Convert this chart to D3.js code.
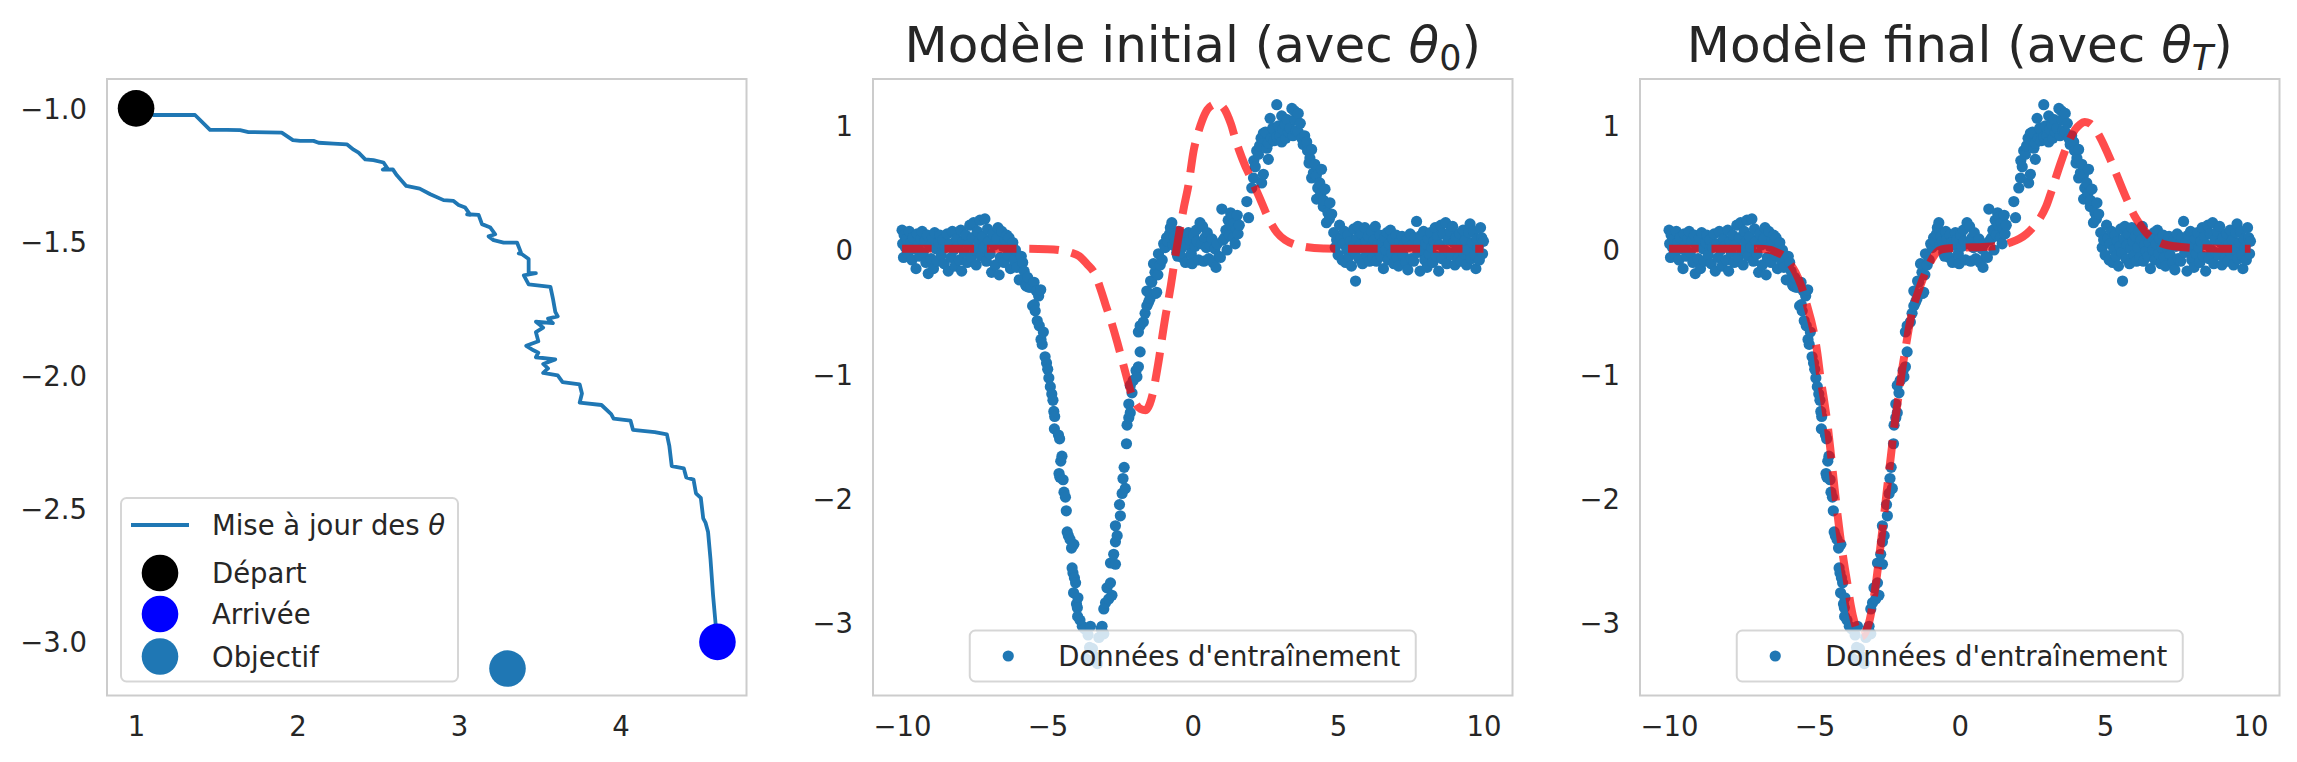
<!DOCTYPE html>
<html>
<head>
<meta charset="utf-8">
<script src="https://cdn.jsdelivr.net/npm/d3@7"></script>
<style>
  body { margin: 0; background: #fff; }
  text { font-family: "DejaVu Sans", sans-serif; fill: #262626; }
</style>
</head>
<body>
<svg id="chart" width="2297" height="762"></svg>
<script>
// ---- data ----
// left panel : trajectory of theta during training
var pathX = [1.0, 1.107, 1.365, 1.458, 1.562, 1.644, 1.696, 1.902, 1.971, 2.016, 2.099, 2.13, 2.223, 2.305,
  2.347, 2.378, 2.419, 2.47, 2.532, 2.553, 2.528, 2.59, 2.615, 2.673, 2.756, 2.822, 2.904, 2.966, 2.997,
  3.038, 3.07, 3.05, 3.121, 3.142, 3.194, 3.224, 3.183, 3.214, 3.276, 3.359, 3.383, 3.37, 3.39, 3.431,
  3.431, 3.476, 3.401, 3.431, 3.566, 3.581, 3.596, 3.611, 3.551, 3.581, 3.476, 3.521, 3.476, 3.491,
  3.416, 3.461, 3.491, 3.476, 3.596, 3.521, 3.551, 3.521, 3.611, 3.641, 3.747, 3.761, 3.747, 3.882,
  3.942, 3.957, 4.062, 4.077, 4.212, 4.287, 4.302, 4.317, 4.392, 4.407, 4.452, 4.467, 4.497, 4.512,
  4.527, 4.542, 4.557, 4.573, 4.588, 4.6];
var pathY = [-1.0, -1.025, -1.025, -1.081, -1.081, -1.082, -1.089, -1.091, -1.119, -1.122, -1.122, -1.129, -1.132, -1.135,
  -1.155, -1.166, -1.191, -1.194, -1.203, -1.222, -1.23, -1.229, -1.251, -1.291, -1.301, -1.322, -1.344, -1.347, -1.362,
  -1.372, -1.399, -1.397, -1.399, -1.434, -1.447, -1.472, -1.48, -1.494, -1.503, -1.503, -1.54, -1.544, -1.547, -1.565,
  -1.618, -1.618, -1.626, -1.66, -1.669, -1.712, -1.763, -1.78, -1.788, -1.805, -1.8, -1.822, -1.839, -1.873,
  -1.89, -1.907, -1.916, -1.933, -1.941, -1.958, -1.975, -1.992, -2.001, -2.026, -2.035, -2.069, -2.103, -2.112,
  -2.146, -2.163, -2.171, -2.205, -2.214, -2.222, -2.265, -2.341, -2.35, -2.384, -2.392, -2.443, -2.46, -2.537,
  -2.554, -2.588, -2.69, -2.826, -2.928, -3.0];
var startPoint = [1.0, -1.0];
var endPoint = [4.6, -3.0];
var targetPoint = [3.3, -3.1];

// training data (same in both right panels)
var trainPoints = [
  [-10.0,0.16],[-9.98,0.05],[-9.95,-0.06],[-9.93,0.12],[-9.88,0.02],[-9.84,0.09],[-9.8,-0.03],[-9.75,0.15],
  [-9.7,0.06],[-9.66,-0.08],[-9.62,0.1],[-9.57,0.01],[-9.52,-0.15],[-9.48,0.13],[-9.44,0.04],[-9.4,-0.05],
  [-9.36,0.09],[-9.31,0.15],[-9.27,-0.02],[-9.22,0.07],[-9.18,-0.1],[-9.13,0.12],[-9.1,-0.19],[-9.05,0.03],
  [-9.0,-0.07],[-8.96,0.1],[-8.92,-0.15],[-8.88,0.14],[-8.83,0.01],[-8.79,-0.09],[-8.74,0.06],[-8.7,0.12],
  [-8.65,-0.04],[-8.6,0.08],[-8.55,-0.11],[-8.5,0.02],[-8.45,0.13],[-8.41,-0.17],[-8.36,0.05],[-8.31,-0.06],
  [-8.27,0.15],[-8.22,0.0],[-8.18,-0.13],[-8.13,0.09],[-8.08,0.03],[-8.03,-0.08],[-7.98,0.16],[-7.95,-0.17],
  [-7.9,0.07],[-7.86,-0.02],[-7.81,0.12],[-7.76,-0.1],[-7.72,0.04],[-7.67,0.2],[-7.62,-0.06],[-7.58,0.1],
  [-7.54,0.22],[-7.5,0.0],[-7.45,-0.12],[-7.41,0.15],[-7.37,0.06],[-7.32,0.24],[-7.28,-0.05],[-7.23,0.11],
  [-7.19,0.02],[-7.15,0.25],[-7.1,-0.09],[-7.06,0.17],[-7.01,0.07],[-6.97,-0.03],[-6.92,-0.18],[-6.88,0.13],
  [-6.83,0.04],[-6.79,-0.12],[-6.74,0.09],[-6.7,0.18],[-6.66,-0.2],[-6.62,-0.06],[-6.57,0.15],[-6.53,0.03],
  [-6.49,-0.1],[-6.45,0.08],[-6.4,0.12],[-6.36,-0.04],[-6.32,0.1],[-6.27,-0.15],[-6.23,0.02],[-6.19,0.06],
  [-6.14,-0.08],[-6.1,0.0],
  [-6.05,-0.14],[-5.97,-0.24],[-5.9,-0.05],[-5.85,-0.1],[-5.8,-0.17],[-5.75,-0.28],[-5.73,-0.29],[-5.68,-0.22],
  [-5.63,-0.3],[-5.57,-0.3],[-5.51,-0.45],[-5.46,-0.26],[-5.45,-0.44],[-5.42,-0.49],[-5.38,-0.33],[-5.35,-0.57],
  [-5.3,-0.37],[-5.28,-0.61],[-5.23,-0.32],[-5.22,-0.72],[-5.18,-0.76],[-5.14,-0.66],[-5.08,-0.86],[-5.03,-0.91],
  [-4.99,-0.96],[-4.95,-1.03],[-4.9,-1.1],[-4.85,-1.16],[-4.81,-1.21],[-4.78,-1.3],[-4.75,-1.34],[-4.76,-1.44],
  [-4.62,-1.49],[-4.58,-1.52],[-4.54,-1.7],[-4.5,-1.66],[-4.6,-1.8],[-4.57,-1.83],[-4.46,-1.85],[-4.43,-1.95],
  [-4.38,-1.99],[-4.35,-2.1],[-4.32,-2.27],[-4.28,-2.3],[-4.22,-2.33],[-4.17,-2.4],[-4.12,-2.6],[-4.15,-2.56],
  [-4.09,-2.37],[-4.07,-2.64],[-4.03,-2.68],[-4.1,-2.76],[-4.0,-2.85],[-3.95,-2.8],[-3.97,-2.88],[-3.96,-2.95],
  [-3.88,-2.98],[-3.8,-3.03],[-3.72,-3.05],[-3.68,-3.29],[-3.6,-3.1],[-3.55,-3.2],[-3.52,-3.03],[-3.45,-3.21],
  [-3.4,-3.3],[-3.33,-3.28],[-3.28,-3.33],[-3.23,-3.12],[-3.15,-3.05],[-3.12,-3.03],[-3.06,-3.09],[-3.06,-2.89],
  [-3.0,-2.84],[-2.95,-2.72],[-2.89,-2.81],[-2.83,-2.68],[-2.78,-2.78],[-2.83,-2.52],[-2.72,-2.45],[-2.66,-2.53],
  [-2.66,-2.35],[-2.6,-2.3],[-2.66,-2.22],[-2.52,-2.05],[-2.49,-2.14],[-2.43,-1.96],[-2.4,-1.84],[-2.32,-1.92],
  [-2.36,-1.75],[-2.28,-1.56],[-2.26,-1.41],[-2.2,-1.35],[-2.2,-1.24],[-2.15,-1.31],[-2.09,-1.15],[-2.15,-1.09],
  [-2.05,-1.05],[-1.95,-0.97],[-1.92,-1.02],[-1.87,-0.94],[-1.81,-0.82],[-1.87,-0.66],[-1.81,-0.61],[-1.7,-0.58],
  [-1.64,-0.51],[-1.58,-0.45],[-1.52,-0.42],[-1.47,-0.39],[-1.58,-0.33],[-1.41,-0.26],[-1.45,-0.25],[-1.28,-0.35],
  [-1.24,-0.34],[-1.3,-0.18],[-1.35,-0.11],[-1.2,-0.2],[-1.18,-0.03],[-1.12,-0.12],[-1.05,-0.08],
  [-1.0,0.05],[-0.95,0.02],[-0.9,0.1],[-0.86,0.07],[-0.8,0.13],[-0.77,0.18],[-0.72,0.22],[-0.68,0.04],
  [-0.64,0.11],[-0.6,0.07],[-0.55,-0.02],[-0.52,-0.05],[-0.48,0.15],[-0.44,0.09],[-0.4,0.01],[-0.36,-0.06],
  [-0.33,0.12],[-0.28,0.06],[-0.25,-0.1],[-0.2,0.04],[-0.15,0.14],[-0.1,0.08],[-0.05,-0.03],[-0.02,-0.11],
  [0.03,0.12],[0.08,0.03],[0.12,0.16],[0.15,0.07],[0.2,-0.08],[0.25,0.22],[0.3,0.05],[0.34,0.19],
  [0.38,-0.09],[0.42,0.1],[0.47,0.02],[0.5,0.14],[0.55,-0.07],[0.6,0.04],[0.66,0.09],[0.7,-0.1],
  [0.76,0.01],[0.8,-0.14],[0.84,0.05],[0.9,-0.05],[0.95,-0.06],[1.0,0.33],[1.05,0.08],[1.1,0.1],
  [1.14,0.16],[1.18,0.0],[1.22,0.24],[1.26,0.12],[1.3,0.3],[1.33,0.2],[1.36,0.27],[1.4,0.1],
  [1.43,0.22],[1.46,0.05],[1.5,0.17],[1.53,0.28],[1.56,0.13],[1.6,0.2],[1.86,0.39],[1.92,0.26],
  [2.03,0.5],[2.09,0.58],[2.1,0.72],[2.15,0.67],[2.2,0.8],[2.26,0.77],[2.3,0.84],[2.35,0.9],
  [2.37,0.54],[2.43,0.61],[2.43,0.94],[2.5,0.95],[2.55,0.82],[2.6,0.86],[2.6,0.73],[2.66,1.06],
  [2.7,0.9],[2.75,0.98],[2.8,0.88],[2.89,1.17],[2.89,0.91],[2.95,1.0],[3.0,0.92],[3.06,1.08],
  [3.06,0.87],[3.1,0.97],[3.18,1.01],[3.2,0.9],[3.25,1.05],[3.29,0.95],[3.35,0.98],[3.41,1.14],
  [3.45,0.92],[3.5,1.12],[3.52,1.05],[3.55,0.96],[3.63,1.1],[3.63,0.95],[3.7,1.02],[3.75,0.9],
  [3.8,0.85],[3.85,0.92],[3.92,0.87],[3.95,0.8],[4.0,0.7],[4.03,0.74],[4.09,0.81],[4.09,0.58],
  [4.15,0.62],[4.2,0.69],[4.25,0.6],[4.26,0.41],[4.3,0.5],[4.37,0.54],[4.4,0.45],[4.43,0.65],
  [4.49,0.35],[4.5,0.4],[4.55,0.49],[4.6,0.22],[4.65,0.3],[4.7,0.25],[4.72,0.38],[4.78,0.29],
  [4.85,0.14],[4.9,0.02],[4.95,0.08],[5.0,-0.04],[5.05,0.2],[5.1,0.1],[5.14,-0.08],[5.18,0.05],
  [5.22,0.15],[5.26,-0.1],[5.3,0.0],[5.34,0.12],[5.38,-0.05],[5.42,0.07],[5.46,-0.13],[5.5,0.03],
  [5.54,0.17],[5.58,-0.02],[5.6,-0.25],[5.64,0.09],[5.68,0.19],[5.72,-0.07],[5.76,0.04],[5.8,0.13],
  [5.84,-0.11],[5.88,0.01],[5.92,0.18],[5.96,0.07],[6.0,-0.04],[6.04,0.11],[6.08,-0.09],[6.12,0.02],
  [6.16,0.15],[6.2,-0.06],[6.24,0.08],[6.28,0.19],[6.32,-0.09],[6.36,0.04],[6.4,-0.01],[6.44,0.12],
  [6.48,-0.05],[6.52,0.06],[6.56,-0.15],[6.6,0.1],[6.64,0.0],[6.68,0.14],[6.72,-0.08],[6.76,0.05],
  [6.8,0.16],[6.84,-0.03],[6.88,0.09],[6.92,-0.11],[6.96,0.02],[7.0,0.12],[7.04,-0.06],[7.08,-0.13],
  [7.12,0.07],[7.16,0.01],[7.2,0.11],[7.24,-0.04],[7.28,0.05],[7.32,-0.1],[7.36,0.08],[7.4,-0.16],
  [7.44,0.03],[7.48,0.13],[7.52,-0.07],[7.56,0.04],[7.6,-0.09],[7.64,0.1],[7.7,0.23],[7.74,-0.02],
  [7.78,0.06],[7.82,-0.17],[7.86,0.12],[7.9,0.0],[7.94,0.15],[7.98,-0.08],[8.02,0.05],[8.06,-0.14],
  [8.1,0.09],[8.14,-0.03],[8.18,0.14],[8.22,0.02],[8.26,-0.1],[8.3,0.07],[8.34,0.18],[8.38,-0.05],
  [8.42,0.11],[8.46,-0.17],[8.5,0.04],[8.54,0.2],[8.58,-0.07],[8.62,0.13],[8.66,0.0],[8.7,0.22],
  [8.74,-0.11],[8.78,0.08],[8.82,-0.02],[8.86,0.15],[8.9,-0.04],[8.94,0.19],[8.98,0.06],[9.02,-0.12],
  [9.06,0.1],[9.1,0.02],[9.14,-0.06],[9.18,0.13],[9.22,-0.09],[9.26,0.05],[9.3,0.16],[9.34,-0.03],
  [9.38,0.08],[9.42,-0.12],[9.46,0.0],[9.5,0.14],[9.54,0.21],[9.58,-0.07],[9.62,0.06],[9.66,0.15],
  [9.7,-0.04],[9.74,-0.15],[9.78,0.09],[9.82,0.02],[9.86,-0.08],[9.9,0.18],[9.94,0.1],[9.97,-0.03],
  [10.0,0.07]
];

// model predictions
var initCurveX = [-10, -8, -6, -5, -4.6, -4.2, -3.9, -3.65, -3.35, -3.15, -3.0, -2.8, -2.6, -2.45, -2.3, -2.15,
  -2.0, -1.8, -1.62, -1.48, -1.36, -1.25, -1.15, -1.05, -0.95, -0.85, -0.75, -0.6, -0.45, -0.3, -0.15, 0.03,
  0.18, 0.32, 0.5, 0.7, 0.85, 1.0, 1.17, 1.32, 1.46, 1.6, 1.8, 2.0, 2.15, 2.32, 2.5, 2.66, 2.9, 3.18, 3.5,
  3.87, 4.5, 5.5, 7, 8.5, 10];
var initCurveY = [0.01, 0.01, 0.01, 0.007, 0.0, -0.02, -0.05, -0.11, -0.2, -0.33, -0.44, -0.58, -0.74, -0.87, -1.0, -1.13,
  -1.22, -1.28, -1.29, -1.24, -1.14, -1.0, -0.86, -0.7, -0.55, -0.42, -0.28, -0.05, 0.16, 0.35, 0.52, 0.8,
  0.94, 1.04, 1.13, 1.17, 1.18, 1.16, 1.1, 1.01, 0.9, 0.8, 0.68, 0.58, 0.5, 0.41, 0.31, 0.23, 0.14, 0.08, 0.045,
  0.025, 0.012, 0.01, 0.01, 0.01, 0.01];
var finalCurveX = [-10, -8, -6.96, -6.5, -6.29, -6.05, -5.87, -5.65, -5.45, -5.25, -5.04, -4.9, -4.79, -4.66, -4.54,
  -4.43, -4.32, -4.22, -4.12, -4.0, -3.87, -3.75, -3.62, -3.5, -3.37, -3.25, -3.12, -3.0, -2.87, -2.75, -2.62,
  -2.5, -2.37, -2.25, -2.12, -2.0, -1.87, -1.75, -1.62, -1.45, -1.28, -1.1, -0.95, -0.8, -0.62, -0.3, 0.2, 0.8,
  1.38, 1.75, 2.05, 2.3, 2.55, 2.77, 2.97, 3.15, 3.3, 3.47, 3.64, 3.8, 3.97, 4.13, 4.3, 4.47, 4.64, 4.8, 4.97,
  5.18, 5.39, 5.6, 5.8, 6.0, 6.22, 6.45, 6.72, 7.05, 7.39, 8.22, 9.0, 10];
var finalCurveY = [0.01, 0.01, 0.01, 0.0, -0.02, -0.05, -0.1, -0.18, -0.29, -0.45, -0.64, -0.83, -1.03, -1.22, -1.42,
  -1.65, -1.89, -2.1, -2.29, -2.49, -2.68, -2.86, -3.0, -3.08, -3.11, -3.08, -3.0, -2.86, -2.66, -2.43, -2.17,
  -1.92, -1.66, -1.42, -1.2, -0.99, -0.8, -0.63, -0.48, -0.35, -0.24, -0.14, -0.07, -0.02, 0.005, 0.015, 0.02, 0.025,
  0.035, 0.06, 0.09, 0.13, 0.19, 0.26, 0.35, 0.47, 0.58, 0.7, 0.81, 0.9, 0.97, 1.01, 1.03, 1.02, 0.98, 0.92, 0.84,
  0.73, 0.61, 0.49, 0.38, 0.28, 0.2, 0.13, 0.08, 0.045, 0.03, 0.015, 0.01, 0.01];

// ticks
var pathTicksX = [1, 2, 3, 4];
var pathTicksY = [-1.0, -1.5, -2.0, -2.5, -3.0];
var fitTicksX = [-10, -5, 0, 5, 10];
var fitTicksY = [1, 0, -1, -2, -3];

// ---- drawing ----
var blue = "#1f77b4";
var top_ = 79, bottom_ = 695.5, panelW = 639.5;
var fontSize = 27.5;

var svg = d3.select("#chart");

function makePanel(left, xDomain, yDomain) {
  var x = d3.scaleLinear().domain(xDomain).range([left, left + panelW]);
  var y = d3.scaleLinear().domain(yDomain).range([bottom_, top_]);
  var g = svg.append("g");
  g.append("rect")
    .attr("x", left).attr("y", top_)
    .attr("width", panelW).attr("height", bottom_ - top_)
    .attr("fill", "#fff").attr("stroke", "#cccccc").attr("stroke-width", 2);
  return { g: g, x: x, y: y, left: left };
}

function drawAxes(p, xTicks, yTicks, xFmt, yFmt) {
  p.g.append("g")
    .attr("transform", "translate(0," + bottom_ + ")")
    .call(d3.axisBottom(p.x).tickValues(xTicks).tickFormat(xFmt).tickSize(0).tickPadding(21))
    .call(function (a) { a.select(".domain").remove(); })
    .selectAll("text")
    .attr("font-size", fontSize).attr("font-family", "DejaVu Sans").attr("fill", "#262626");
  p.g.append("g")
    .attr("transform", "translate(" + p.left + ",0)")
    .call(d3.axisLeft(p.y).tickValues(yTicks).tickFormat(yFmt).tickSize(0).tickPadding(20))
    .call(function (a) { a.select(".domain").remove(); })
    .selectAll("text")
    .attr("font-size", fontSize).attr("font-family", "DejaVu Sans").attr("fill", "#262626")
    .attr("dy", "0.36em");
}

function legendBox(g, x0, y0, w, h) {
  g.append("rect")
    .attr("x", x0).attr("y", y0).attr("width", w).attr("height", h)
    .attr("rx", 5.5).attr("ry", 5.5)
    .attr("fill", "#fff").attr("fill-opacity", 0.8)
    .attr("stroke", "#cccccc").attr("stroke-opacity", 0.8).attr("stroke-width", 2);
}

// panel 1 : theta path
var p1 = makePanel(107, [0.82, 4.78], [-3.201, -0.89]);
drawAxes(p1, pathTicksX, pathTicksY, d3.format("d"), d3.format(".1f"));

var pathLine = d3.line().x(function (d) { return p1.x(d[0]); }).y(function (d) { return p1.y(d[1]); });
p1.g.append("path")
  .datum(d3.zip(pathX, pathY))
  .attr("d", pathLine)
  .attr("fill", "none").attr("stroke", blue).attr("stroke-width", 3.8)
  .attr("stroke-linejoin", "round");

var markers = [
  { pt: startPoint, color: "#000000", label: "Départ" },
  { pt: endPoint, color: "#0000ff", label: "Arrivée" },
  { pt: targetPoint, color: blue, label: "Objectif" }
];
p1.g.selectAll("circle.marker")
  .data(markers).enter().append("circle")
  .attr("class", "marker")
  .attr("cx", function (d) { return p1.x(d.pt[0]); })
  .attr("cy", function (d) { return p1.y(d.pt[1]); })
  .attr("r", 18.3)
  .attr("fill", function (d) { return d.color; });

var lg1 = p1.g.append("g");
legendBox(lg1, 121, 498, 337, 183.5);
lg1.append("line")
  .attr("x1", 131).attr("x2", 189).attr("y1", 525).attr("y2", 525)
  .attr("stroke", blue).attr("stroke-width", 3.8);
var t1 = lg1.append("text").attr("x", 212).attr("y", 525 + 10).attr("font-size", fontSize);
t1.append("tspan").text("Mise à jour des ");
t1.append("tspan").attr("font-style", "italic").text("θ");
var rowsY = [573, 614, 656.5];
markers.forEach(function (m, i) {
  lg1.append("circle").attr("cx", 160).attr("cy", rowsY[i]).attr("r", 18.3).attr("fill", m.color);
  lg1.append("text").attr("x", 212).attr("y", rowsY[i] + 10).attr("font-size", fontSize).text(m.label);
});

// panels 2 and 3 : data and model
function fitPanel(left, curveX, curveY, titleText, sub, subItalic) {
  var p = makePanel(left, [-11, 11], [-3.587, 1.377]);
  drawAxes(p, fitTicksX, fitTicksY, d3.format("d"), d3.format("d"));

  p.g.selectAll("circle.pt")
    .data(trainPoints).enter().append("circle")
    .attr("class", "pt")
    .attr("cx", function (d) { return p.x(d[0]); })
    .attr("cy", function (d) { return p.y(d[1]); })
    .attr("r", 5.6)
    .attr("fill", blue);

  var curve = d3.line().curve(d3.curveMonotoneX)
    .x(function (d) { return p.x(d[0]); })
    .y(function (d) { return p.y(d[1]); });
  p.g.append("path")
    .datum(d3.zip(curveX, curveY))
    .attr("d", curve)
    .attr("fill", "none").attr("stroke", "red").attr("stroke-opacity", 0.7)
    .attr("stroke-width", 8).attr("stroke-dasharray", "29.6,12.8");

  // title
  var cx = left + panelW / 2;
  var title = p.g.append("text")
    .attr("x", cx).attr("y", 62).attr("text-anchor", "middle").attr("font-size", 50);
  title.append("tspan").text(titleText);
  title.append("tspan").attr("font-style", "italic").text("θ");
  title.append("tspan").attr("font-size", 35).attr("dy", 7.5)
    .attr("font-style", subItalic ? "italic" : "normal").text(sub);
  title.append("tspan").attr("dy", -7.5).text(")");

  // legend (lower center)
  var lx = cx - 223;
  var lg = p.g.append("g");
  legendBox(lg, lx, 630.5, 446, 51);
  lg.append("circle").attr("cx", lx + 38.5).attr("cy", 656).attr("r", 5.6).attr("fill", blue);
  lg.append("text").attr("x", lx + 88.5).attr("y", 666).attr("font-size", fontSize)
    .text("Données d'entraînement");
  return p;
}

fitPanel(873, initCurveX, initCurveY, "Modèle initial (avec ", "0", false);
fitPanel(1640, finalCurveX, finalCurveY, "Modèle final (avec ", "T", true);
</script>
</body>
</html>
